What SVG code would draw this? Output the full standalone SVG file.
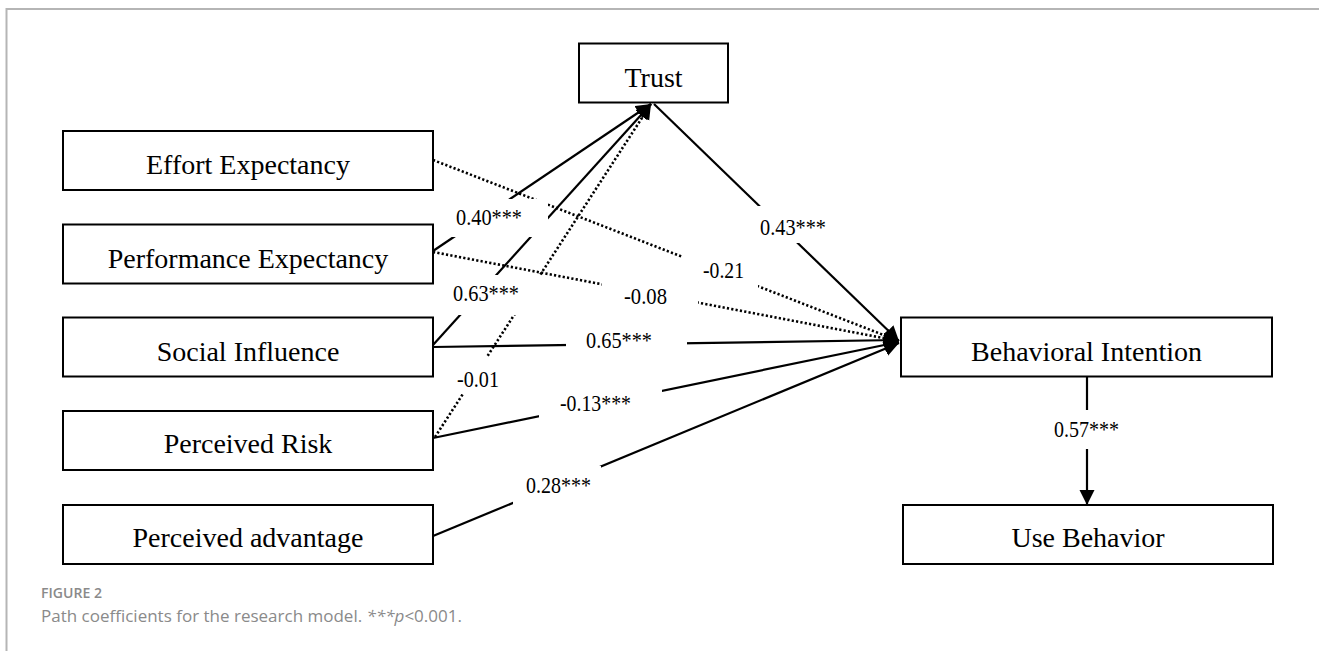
<svg xmlns="http://www.w3.org/2000/svg" width="1319" height="651" viewBox="0 0 1319 651">
<style>
.box{fill:#fff;stroke:#000;stroke-width:2}
.nt{font-family:"Liberation Serif","Times New Roman",serif;font-size:28px;fill:#000;text-anchor:middle}
.lt{font-family:"Liberation Serif","Times New Roman",serif;font-size:23px;fill:#000}
.c{fill:none;stroke:#000;stroke-width:2.2;marker-end:url(#ah)}
.d{stroke-dasharray:2.2 2.2;stroke-width:2.6}
.bg{fill:#fff;stroke:none}
.cap{font-family:"Open Sans","Noto Sans","Liberation Sans",sans-serif;fill:#8a8a8a}
</style>
<defs>
<marker id="ah" markerUnits="userSpaceOnUse" markerWidth="16" markerHeight="16" refX="15" refY="7.5" orient="auto">
<path d="M0,0 L15,7.5 L0,15 z" fill="#000"/>
</marker>
</defs>
<rect x="0" y="0" width="1319" height="651" fill="#fff"/>
<g id="frame" stroke="#b5b5b5" stroke-width="2" fill="none">
<path d="M6.5,651 L6.5,9 L1319,9"/>
</g>
<g id="connectors">
<path class="c" d="M433,251 L651,104"/>
<path class="c" d="M433,345 L651,104"/>
<path class="c d" d="M435,437 L651,104"/>
<path class="c" d="M654,104 L899,341"/>
<path class="c d" d="M433,160 L899,341"/>
<path class="c d" d="M433,252 L899,341"/>
<path class="c" d="M433,347 L899,340"/>
<path class="c" d="M433,438 L899,342"/>
<path class="c" d="M433,536 L899,343"/>
<path class="c" d="M1087,377 L1087,505"/>
</g>
<g id="labels">
<rect class="bg" x="447" y="199" width="101" height="38"/>
<text class="lt" x="456" y="225" textLength="66" lengthAdjust="spacingAndGlyphs">0.40***</text>
<rect class="bg" x="444" y="275" width="97" height="40"/>
<text class="lt" x="453" y="301" textLength="66" lengthAdjust="spacingAndGlyphs">0.63***</text>
<rect class="bg" x="602" y="283" width="96" height="30"/>
<text class="lt" x="624" y="304" textLength="43" lengthAdjust="spacingAndGlyphs">-0.08</text>
<rect class="bg" x="682" y="255" width="76" height="33"/>
<text class="lt" x="703" y="278" textLength="41" lengthAdjust="spacingAndGlyphs">-0.21</text>
<rect class="bg" x="752" y="206" width="80" height="37"/>
<text class="lt" x="760" y="235" textLength="66" lengthAdjust="spacingAndGlyphs">0.43***</text>
<rect class="bg" x="566" y="325" width="121" height="32"/>
<text class="lt" x="586" y="348" textLength="66" lengthAdjust="spacingAndGlyphs">0.65***</text>
<rect class="bg" x="448" y="357" width="62" height="37"/>
<text class="lt" x="457" y="387" textLength="42" lengthAdjust="spacingAndGlyphs">-0.01</text>
<rect class="bg" x="539" y="388" width="123" height="32"/>
<text class="lt" x="560" y="411" textLength="71" lengthAdjust="spacingAndGlyphs">-0.13***</text>
<rect class="bg" x="513" y="466" width="88" height="40"/>
<text class="lt" x="526" y="493" textLength="65" lengthAdjust="spacingAndGlyphs">0.28***</text>
<rect class="bg" x="1050" y="410" width="72" height="39"/>
<text class="lt" x="1054" y="437" textLength="65" lengthAdjust="spacingAndGlyphs">0.57***</text>
</g>
<g id="trust"><rect class="box" x="579" y="43.5" width="149" height="59"/><text class="nt" x="653.5" y="87">Trust</text></g>
<g id="effort-expectancy"><rect class="box" x="63" y="131" width="370" height="59"/><text class="nt" x="248" y="174">Effort Expectancy</text></g>
<g id="performance-expectancy"><rect class="box" x="63" y="224.5" width="370" height="59"/><text class="nt" x="248" y="268">Performance Expectancy</text></g>
<g id="social-influence"><rect class="box" x="63" y="317.5" width="370" height="59"/><text class="nt" x="248" y="361">Social Influence</text></g>
<g id="perceived-risk"><rect class="box" x="63" y="411" width="370" height="59"/><text class="nt" x="248" y="453">Perceived Risk</text></g>
<g id="perceived-advantage"><rect class="box" x="63" y="505" width="370" height="59"/><text class="nt" x="248" y="547">Perceived advantage</text></g>
<g id="behavioral-intention"><rect class="box" x="901" y="317.5" width="371" height="59"/><text class="nt" x="1086.5" y="361">Behavioral Intention</text></g>
<g id="use-behavior"><rect class="box" x="903" y="505" width="370" height="59"/><text class="nt" x="1088" y="547">Use Behavior</text></g>
<g id="caption">
<text class="cap" x="41" y="598" font-size="13.5" font-weight="600" textLength="61" lengthAdjust="spacingAndGlyphs">FIGURE 2</text>
<text class="cap" x="41" y="622" font-size="17">Path coefficients for the research model. <tspan font-style="italic">***p</tspan>&lt;0.001.</text>
</g>
</svg>
